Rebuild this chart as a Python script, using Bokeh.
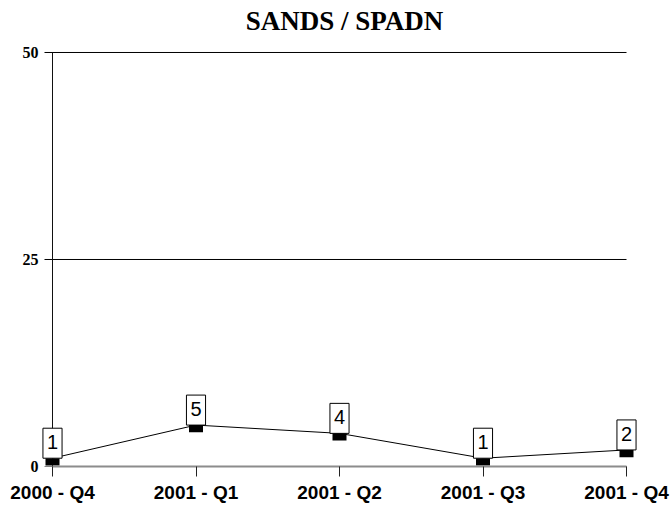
from bokeh.plotting import figure
from bokeh.models import Range1d, FixedTicker, ColumnDataSource, Label
from bokeh.embed import file_html
from bokeh.resources import INLINE

title_text = "SANDS / SPADN"
categories = ["2000 - Q4", "2001 - Q1", "2001 - Q2", "2001 - Q3", "2001 - Q4"]
counts = [1, 5, 4, 1, 2]
y_ticks = [0, 25, 50]

xs = list(range(len(categories)))
n_last = len(categories) - 1

# layout in pixels
W, H = 670, 508
AX_LEFT, AX_RIGHT, AX_TOP, AX_BOTTOM = 52, 626, 52, 466
PAD = 12          # extra frame space so edge labels aren't clipped
TICK = 8          # y tick length
TITLE_X, TITLE_BOTTOM = 344, 36
px_per_x = (AX_RIGHT - AX_LEFT) / n_last
dx = PAD / px_per_x
tick_dx = TICK / px_per_x
px_per_y = (AX_BOTTOM - AX_TOP) / (y_ticks[-1] - y_ticks[0])
y_top = y_ticks[-1] + AX_TOP / px_per_y   # frame reaches the top of the canvas

src = ColumnDataSource(dict(
    x=xs,
    y=counts,
    marker_y=[c - 3.6 / px_per_y for c in counts],
))
grid_src = ColumnDataSource(dict(
    x0=[-tick_dx] * len(y_ticks),
    x1=[n_last] * len(y_ticks),
    y=y_ticks,
))

p = figure(width=W, height=H, output_backend="svg", toolbar_location=None,
           x_range=Range1d(-dx, n_last + dx),
           y_range=Range1d(y_ticks[0] - 0.001, y_top),
           min_border_left=AX_LEFT - PAD, min_border_right=W - AX_RIGHT - PAD,
           min_border_top=0, min_border_bottom=H - AX_BOTTOM)
p.outline_line_color = None
p.background_fill_color = "white"
p.border_fill_color = "white"

# x axis
p.xaxis.ticker = FixedTicker(ticks=xs)
p.xaxis.bounds = (0, n_last)
p.xaxis.major_label_overrides = {i: c for i, c in zip(xs, categories)}
p.xaxis.major_label_text_font = "Liberation Sans"
p.xaxis.major_label_text_font_style = "bold"
p.xaxis.major_label_text_font_size = "19px"
p.xaxis.major_label_text_color = "black"
p.xaxis.major_label_standoff = 5
p.xaxis.major_tick_out = 10
p.xaxis.major_tick_in = 0
p.xaxis.minor_tick_line_color = None
p.xaxis.axis_line_color = "#8c8c8c"
p.xaxis.axis_line_width = 2
p.xaxis.major_tick_line_color = "#222222"

# y axis (labels only; line, ticks and grid drawn at x=0 below)
p.yaxis.ticker = FixedTicker(ticks=y_ticks)
p.yaxis.major_label_text_font = "Liberation Serif"
p.yaxis.major_label_text_font_style = "bold"
p.yaxis.major_label_text_font_size = "16px"
p.yaxis.major_label_text_color = "black"
p.yaxis.major_label_standoff = 2
p.yaxis.major_tick_out = 0
p.yaxis.major_tick_in = 0
p.yaxis.minor_tick_line_color = None
p.yaxis.axis_line_color = None
p.yaxis.major_tick_line_color = None

p.xgrid.grid_line_color = None
p.ygrid.grid_line_color = None

# horizontal grid lines (with the small tick stubs left of the axis)
p.segment(x0="x0", x1="x1", y0="y", y1="y", source=grid_src,
          line_color="black", line_width=1)
# vertical value axis line at x = 0
p.segment(x0=[0], x1=[0], y0=[y_ticks[0]], y1=[y_ticks[-1]],
          line_color="#111111", line_width=1)

p.line("x", "y", source=src, line_color="black", line_width=1)
p.rect(x="x", y="marker_y", width=14, width_units="screen", height=7.2 / px_per_y,
       source=src, fill_color="black", line_color=None)

for xi, yi in zip(xs, counts):
    p.add_layout(Label(x=xi, y=yi, text=str(yi),
                       text_align="center", text_baseline="bottom",
                       text_font="Liberation Sans", text_font_size="20px",
                       text_color="black",
                       background_fill_color="white", border_line_color="black",
                       border_line_width=1,
                       padding=dict(left=4, right=4, top=7, bottom=9)))

# chart title
p.add_layout(Label(x=(TITLE_X - AX_LEFT) / px_per_x,
                   y=y_ticks[-1] + (AX_TOP - TITLE_BOTTOM) / px_per_y,
                   text=title_text, text_align="center", text_baseline="bottom",
                   text_font="Liberation Serif", text_font_style="bold",
                   text_font_size="27px", text_color="black"))

open("out.html", "w").write(file_html(p, INLINE))
